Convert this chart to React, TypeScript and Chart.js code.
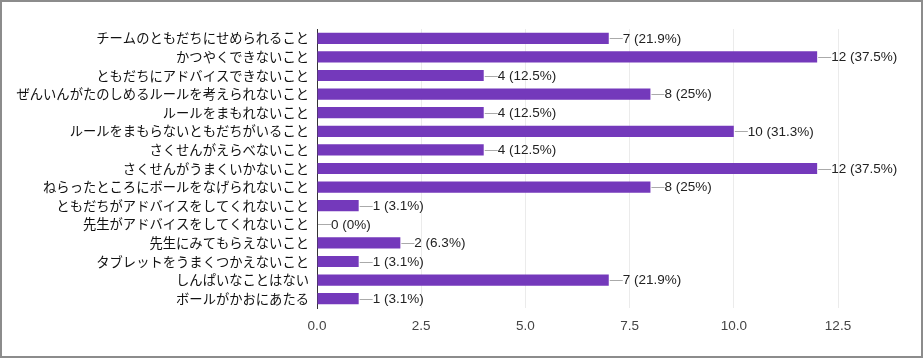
import React, { useEffect, useRef } from "react";
import { Chart, registerables } from "chart.js";

Chart.register(...registerables);

const categories = [
  "チームのともだちにせめられること",
  "かつやくできないこと",
  "ともだちにアドバイスできないこと",
  "ぜんいんがたのしめるルールを考えられないこと",
  "ルールをまもれないこと",
  "ルールをまもらないともだちがいること",
  "さくせんがえらべないこと",
  "さくせんがうまくいかないこと",
  "ねらったところにボールをなげられないこと",
  "ともだちがアドバイスをしてくれないこと",
  "先生がアドバイスをしてくれないこと",
  "先生にみてもらえないこと",
  "タブレットをうまくつかえないこと",
  "しんぱいなことはない",
  "ボールがかおにあたる",
];
const counts = [7, 12, 4, 8, 4, 10, 4, 12, 8, 1, 0, 2, 1, 7, 1];
const percents = ["21.9%", "37.5%", "12.5%", "25%", "12.5%", "31.3%", "12.5%", "37.5%", "25%", "3.1%", "0%", "6.3%", "3.1%", "21.9%", "3.1%"];
const xTicks = [0, 2.5, 5, 7.5, 10, 12.5];

const valueLabelPlugin = {
  id: "valueLabels",
  afterDatasetsDraw(chart: any) {
    const ctx = chart.ctx;
    const meta = chart.getDatasetMeta(0);
    ctx.save();
    ctx.font = "13.5px 'Liberation Sans', Arial, sans-serif";
    ctx.textBaseline = "middle";
    ctx.textAlign = "left";
    meta.data.forEach((bar: any, i: number) => {
      const x = bar.x;
      const y = bar.y;
      ctx.strokeStyle = "#aaaaaa";
      ctx.lineWidth = 1;
      ctx.beginPath();
      ctx.moveTo(x + 1, Math.round(y) + 0.5);
      ctx.lineTo(x + 14, Math.round(y) + 0.5);
      ctx.stroke();
      ctx.fillStyle = "#222222";
      ctx.fillText(`${counts[i]} (${percents[i]})`, x + 14, y + 0.5);
    });
    ctx.restore();
  },
};

export default function App() {
  const ref = useRef<HTMLCanvasElement | null>(null);
  useEffect(() => {
    document.body.style.margin = "0";
    const chart = new Chart(ref.current as HTMLCanvasElement, {
      type: "bar",
      data: {
        labels: categories,
        datasets: [
          {
            data: counts,
            backgroundColor: "#7439bb",
            borderWidth: 0,
            categoryPercentage: 1,
            barPercentage: 0.6,
          },
        ],
      },
      options: {
        indexAxis: "y",
        animation: false,
        responsive: false,
        maintainAspectRatio: false,
        layout: { padding: { top: 29, right: 85, bottom: 0, left: 0 } },
        plugins: {
          legend: { display: false },
          tooltip: { enabled: false },
        },
        scales: {
          x: {
            min: 0,
            max: 12.5,
            afterBuildTicks(scale: any) {
              scale.ticks = xTicks.map((v) => ({ value: v }));
            },
            afterFit(scale: any) {
              scale.height = 50;
            },
            grid: { color: "#ebebeb", drawTicks: false },
            border: { display: false },
            ticks: {
              padding: 10,
              color: "#444444",
              font: { family: "'Liberation Sans', Arial, sans-serif", size: 13.5 },
              callback: (v: any) => Number(v).toFixed(1),
            },
          },
          y: {
            afterFit(scale: any) {
              scale.width = 317;
            },
            grid: { display: false, drawTicks: false },
            border: { display: true, color: "#333333", width: 1 },
            ticks: {
              padding: 8,
              color: "#111111",
              autoSkip: false,
              font: { family: "'Noto Sans CJK JP', sans-serif", size: 13.3 },
            },
          },
        },
      },
      plugins: [valueLabelPlugin],
    } as any);
    return () => chart.destroy();
  }, []);
  return (
    <div style={{ position: "relative", width: 923, height: 358, background: "#fff" }}>
      <canvas ref={ref} width={923} height={358} style={{ display: "block" }} />
      <div
        style={{
          position: "absolute",
          left: 0,
          top: 0,
          width: 923,
          height: 358,
          boxSizing: "border-box",
          border: "2px solid #8c8c8c",
          pointerEvents: "none",
        }}
      />
    </div>
  );
}
